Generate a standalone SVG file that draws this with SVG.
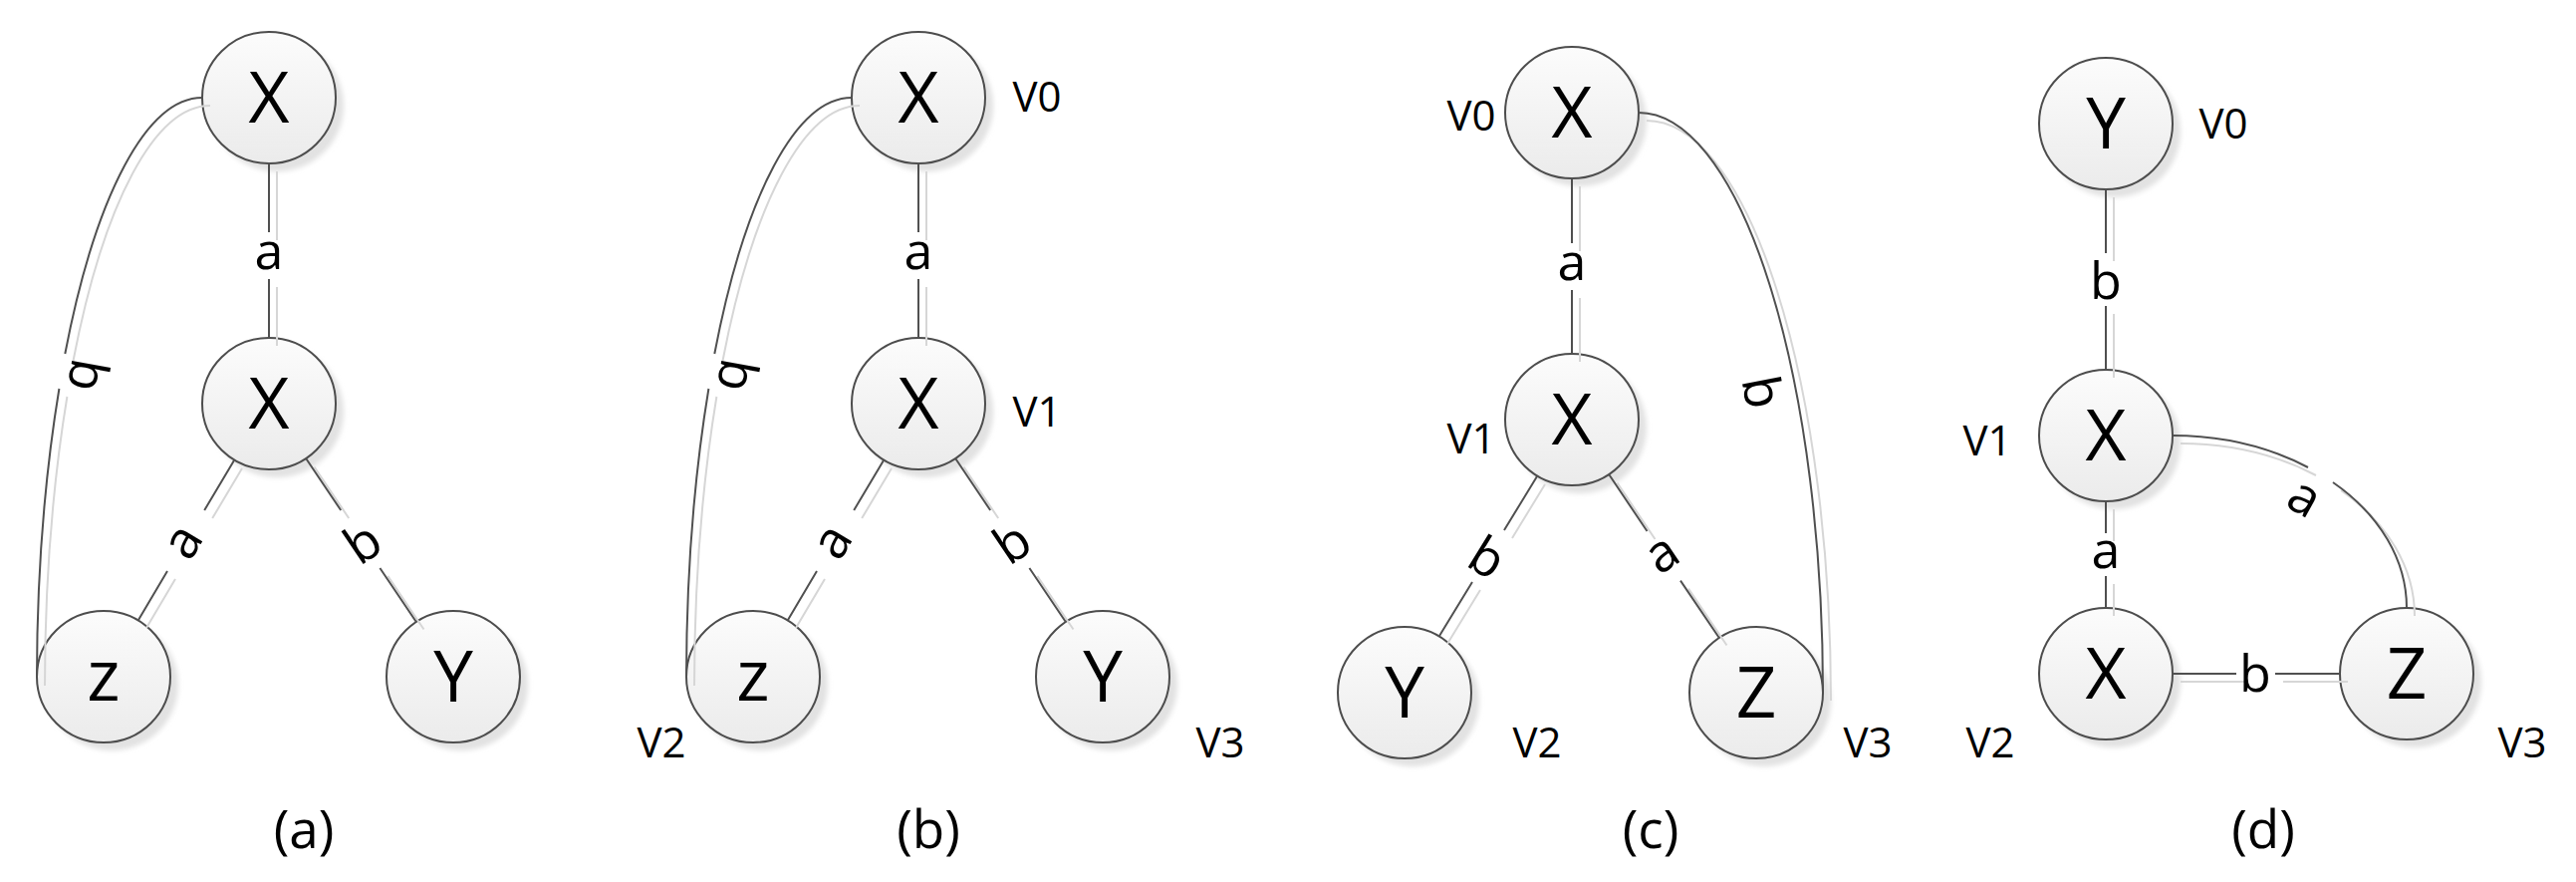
<svg xmlns="http://www.w3.org/2000/svg" xmlns:xlink="http://www.w3.org/1999/xlink" width="2586" height="885" viewBox="0 0 2586 885">
<style>
.nd{fill:url(#nf);stroke:#4d4d4d;stroke-width:2}
.ns{fill:#e2e2e2;stroke:none;filter:url(#blur)}
.nl{font-family:"Open Sans","Liberation Sans",sans-serif;font-size:71px;fill:#000;text-anchor:middle}
.el{font-family:"Open Sans","Liberation Sans",sans-serif;font-size:52px;fill:#000;text-anchor:middle}
.vl{font-family:"Open Sans","Liberation Sans",sans-serif;font-size:42px;fill:#000;text-anchor:middle}
.cap{font-family:"Open Sans","Liberation Sans",sans-serif;font-size:53px;fill:#000;text-anchor:middle}
.ln{fill:none;stroke:#505050;stroke-width:2}
.sh{fill:none;stroke:#d6d6d6;stroke-width:2}
</style>
<defs>
<linearGradient id="nf" x1="0" y1="0" x2="0" y2="1">
<stop offset="0" stop-color="#fcfcfc"/>
<stop offset="1" stop-color="#ebebeb"/>
</linearGradient>
<filter id="blur" x="-20%" y="-20%" width="140%" height="140%"><feGaussianBlur stdDeviation="2.5"/></filter>
<path id="a1" d="M270,164 V233 M270,280 V339"/>
<path id="a2" d="M235,462 L205.2,512 M168,573 L139,622"/>
<path id="a3" d="M307.5,460.5 L342.2,512 M381.4,570 L417.5,623.5"/>
<path id="a4" d="M203,98 A166,582 0 0 0 65.3,355 M59.4,390 A166,582 0 0 0 37,680"/>
<path id="b1" d="M922,164 V233 M922,280 V339"/>
<path id="b2" d="M887,462 L857.2,512 M820,573 L791,622"/>
<path id="b3" d="M959.5,460.5 L994.2,512 M1033.4,570 L1069.5,623.5"/>
<path id="b4" d="M855,98 A166,582 0 0 0 717.3,355 M711.4,390 A166,582 0 0 0 689,680"/>
<path id="c1" d="M1578,179 V244 M1578,291 V355"/>
<path id="c2" d="M1543,478 L1510,532 M1478,584 L1445,638"/>
<path id="c3" d="M1615.5,476.5 L1653.5,533 M1687,582.6 L1725.5,639.5"/>
<path id="c4" d="M1645,113 A185,582 0 0 1 1830,695"/>
<path id="d1" d="M2114,190 V254 M2114,307 V371"/>
<path id="d2" d="M2114,503 V535 M2114,578 V610"/>
<path id="d3" d="M2181,676 H2245 M2284,676 H2349"/>
<path id="d4" d="M2181,437 A235,173 0 0 1 2317,469 M2342,484 A235,173 0 0 1 2416,610"/>
</defs>
<rect width="2586" height="885" fill="#fff"/>

<!-- panel (a) nodes -->
<g id="a-n0"><ellipse class="ns" cx="278" cy="106" rx="67" ry="66"/><ellipse class="nd" cx="270" cy="98" rx="67" ry="66"/><text class="nl" x="270" y="123">X</text></g>
<g id="a-n1"><ellipse class="ns" cx="278" cy="413" rx="67" ry="66"/><ellipse class="nd" cx="270" cy="405" rx="67" ry="66"/><text class="nl" x="270" y="430">X</text></g>
<g id="a-n2"><ellipse class="ns" cx="112" cy="687" rx="67" ry="66"/><ellipse class="nd" cx="104" cy="679" rx="67" ry="66"/><text class="nl" x="104" y="703">z</text></g>
<g id="a-n3"><ellipse class="ns" cx="463" cy="687" rx="67" ry="66"/><ellipse class="nd" cx="455" cy="679" rx="67" ry="66"/><text class="nl" x="455" y="704">Y</text></g>

<!-- panel (b) nodes -->
<g id="b-n0"><ellipse class="ns" cx="930" cy="106" rx="67" ry="66"/><ellipse class="nd" cx="922" cy="98" rx="67" ry="66"/><text class="nl" x="922" y="123">X</text><text class="vl" x="1041" y="112">V0</text></g>
<g id="b-n1"><ellipse class="ns" cx="930" cy="413" rx="67" ry="66"/><ellipse class="nd" cx="922" cy="405" rx="67" ry="66"/><text class="nl" x="922" y="430">X</text><text class="vl" x="1041" y="428">V1</text></g>
<g id="b-n2"><ellipse class="ns" cx="764" cy="687" rx="67" ry="66"/><ellipse class="nd" cx="756" cy="679" rx="67" ry="66"/><text class="nl" x="756" y="703">z</text><text class="vl" x="664" y="760">V2</text></g>
<g id="b-n3"><ellipse class="ns" cx="1115" cy="687" rx="67" ry="66"/><ellipse class="nd" cx="1107" cy="679" rx="67" ry="66"/><text class="nl" x="1107" y="704">Y</text><text class="vl" x="1225" y="760">V3</text></g>

<!-- panel (c) nodes -->
<g id="c-n0"><ellipse class="ns" cx="1586" cy="121" rx="67" ry="66"/><ellipse class="nd" cx="1578" cy="113" rx="67" ry="66"/><text class="nl" x="1578" y="138">X</text><text class="vl" x="1477" y="131">V0</text></g>
<g id="c-n1"><ellipse class="ns" cx="1586" cy="429" rx="67" ry="66"/><ellipse class="nd" cx="1578" cy="421" rx="67" ry="66"/><text class="nl" x="1578" y="446">X</text><text class="vl" x="1477" y="455">V1</text></g>
<g id="c-n2"><ellipse class="ns" cx="1418" cy="703" rx="67" ry="66"/><ellipse class="nd" cx="1410" cy="695" rx="67" ry="66"/><text class="nl" x="1410" y="720">Y</text><text class="vl" x="1543" y="760">V2</text></g>
<g id="c-n3"><ellipse class="ns" cx="1771" cy="703" rx="67" ry="66"/><ellipse class="nd" cx="1763" cy="695" rx="67" ry="66"/><text class="nl" x="1763" y="720">Z</text><text class="vl" x="1875" y="760">V3</text></g>

<!-- panel (d) nodes -->
<g id="d-n0"><ellipse class="ns" cx="2122" cy="132" rx="67" ry="66"/><ellipse class="nd" cx="2114" cy="124" rx="67" ry="66"/><text class="nl" x="2114" y="149">Y</text><text class="vl" x="2232" y="139">V0</text></g>
<g id="d-n1"><ellipse class="ns" cx="2122" cy="445" rx="67" ry="66"/><ellipse class="nd" cx="2114" cy="437" rx="67" ry="66"/><text class="nl" x="2114" y="462">X</text><text class="vl" x="1995" y="457">V1</text></g>
<g id="d-n2"><ellipse class="ns" cx="2122" cy="684" rx="67" ry="66"/><ellipse class="nd" cx="2114" cy="676" rx="67" ry="66"/><text class="nl" x="2114" y="701">X</text><text class="vl" x="1998" y="760">V2</text></g>
<g id="d-n3"><ellipse class="ns" cx="2424" cy="684" rx="67" ry="66"/><ellipse class="nd" cx="2416" cy="676" rx="67" ry="66"/><text class="nl" x="2416" y="701">Z</text><text class="vl" x="2532" y="760">V3</text></g>

<!-- connectors -->
<g id="connectors">
<g id="a-e1"><use xlink:href="#a1" class="sh" transform="translate(8,8)"/><use xlink:href="#a1" class="ln"/><text class="el" x="270" y="270">a</text></g>
<g id="a-e2"><use xlink:href="#a2" class="sh" transform="translate(8,8)"/><use xlink:href="#a2" class="ln"/><text class="el" transform="translate(186,545) rotate(-59)" x="0" y="14">a</text></g>
<g id="a-e3"><use xlink:href="#a3" class="sh" transform="translate(8,8)"/><use xlink:href="#a3" class="ln"/><text class="el" transform="translate(363,543) rotate(-34)" x="0" y="20">b</text></g>
<g id="a-e4"><use xlink:href="#a4" class="sh" transform="translate(8,8)"/><use xlink:href="#a4" class="ln"/><text class="el" transform="translate(90,377) rotate(100)" x="0" y="20">b</text></g>

<g id="b-e1"><use xlink:href="#b1" class="sh" transform="translate(8,8)"/><use xlink:href="#b1" class="ln"/><text class="el" x="922" y="270">a</text></g>
<g id="b-e2"><use xlink:href="#b2" class="sh" transform="translate(8,8)"/><use xlink:href="#b2" class="ln"/><text class="el" transform="translate(838,545) rotate(-59)" x="0" y="14">a</text></g>
<g id="b-e3"><use xlink:href="#b3" class="sh" transform="translate(8,8)"/><use xlink:href="#b3" class="ln"/><text class="el" transform="translate(1015,543) rotate(-34)" x="0" y="20">b</text></g>
<g id="b-e4"><use xlink:href="#b4" class="sh" transform="translate(8,8)"/><use xlink:href="#b4" class="ln"/><text class="el" transform="translate(742,377) rotate(100)" x="0" y="20">b</text></g>

<g id="c-e1"><use xlink:href="#c1" class="sh" transform="translate(8,8)"/><use xlink:href="#c1" class="ln"/><text class="el" x="1578" y="281">a</text></g>
<g id="c-e2"><use xlink:href="#c2" class="sh" transform="translate(8,8)"/><use xlink:href="#c2" class="ln"/><text class="el" transform="translate(1494,558) rotate(31.5)" x="0" y="20">b</text></g>
<g id="c-e3"><use xlink:href="#c3" class="sh" transform="translate(8,8)"/><use xlink:href="#c3" class="ln"/><text class="el" transform="translate(1670,558) rotate(-34)" x="0" y="14">a</text></g>
<g id="c-e4"><use xlink:href="#c4" class="sh" transform="translate(8,8)"/><use xlink:href="#c4" class="ln"/><text class="el" transform="translate(1771,393) rotate(79)" x="0" y="20">b</text></g>

<g id="d-e1"><use xlink:href="#d1" class="sh" transform="translate(8,8)"/><use xlink:href="#d1" class="ln"/><text class="el" x="2114" y="300">b</text></g>
<g id="d-e2"><use xlink:href="#d2" class="sh" transform="translate(8,8)"/><use xlink:href="#d2" class="ln"/><text class="el" x="2114" y="570">a</text></g>
<g id="d-e3"><use xlink:href="#d3" class="sh" transform="translate(8,8)"/><use xlink:href="#d3" class="ln"/><text class="el" x="2264" y="694">b</text></g>
<g id="d-e4"><use xlink:href="#d4" class="sh" transform="translate(8,8)"/><use xlink:href="#d4" class="ln"/><text class="el" transform="translate(2312,502) rotate(29)" x="0" y="14">a</text></g>
</g>

<g id="captions">
<text class="cap" x="305" y="851">(a)</text>
<text class="cap" x="932" y="851">(b)</text>
<text class="cap" x="1657" y="851">(c)</text>
<text class="cap" x="2272" y="851">(d)</text>
</g>
</svg>
